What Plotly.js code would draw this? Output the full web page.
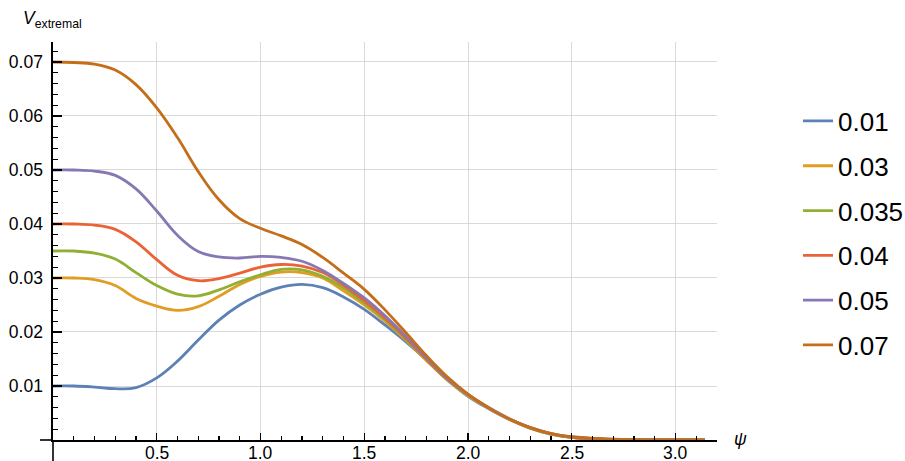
<!DOCTYPE html>
<html>
<head>
<meta charset="utf-8">
<script src="https://cdn.plot.ly/plotly-3.0.1.min.js"></script>
<style>html,body{margin:0;padding:0;background:#fff;}#chart{width:905px;height:461px;}</style>
</head>
<body>
<div id="chart"></div>
<script>
// psi grid
var psi = [0, 0.1, 0.2, 0.3, 0.4, 0.5, 0.6, 0.7, 0.8, 0.9, 1.0, 1.1, 1.2, 1.3, 1.4, 1.5, 1.6, 1.7, 1.8, 1.9, 2.0, 2.1, 2.2, 2.3, 2.4, 2.5, 2.6, 2.8, 3.0, 3.14159];

var labels = ["0.01", "0.03", "0.035", "0.04", "0.05", "0.07"];
var colors = ["#5E81B5", "#E19C24", "#8FB032", "#EB6235", "#8778B3", "#C56E1A"];

var v001  = [0.0100, 0.0100, 0.0098, 0.0095, 0.0097, 0.0115, 0.0146, 0.0185, 0.0222, 0.0250, 0.0270, 0.0283, 0.0288, 0.0282, 0.0265, 0.0242, 0.0213, 0.0182, 0.0148, 0.0112, 0.0081, 0.0058, 0.0038, 0.0022, 0.0011, 0.0005, 0.0002, 0.00005, 0.00001, 0];
var v003  = [0.0300, 0.0300, 0.0297, 0.0286, 0.0262, 0.0248, 0.0240, 0.0247, 0.0266, 0.0288, 0.0303, 0.0311, 0.0310, 0.0300, 0.0276, 0.0250, 0.0220, 0.0185, 0.0147, 0.0111, 0.0082, 0.0059, 0.0038, 0.0022, 0.0011, 0.0005, 0.0002, 0.00005, 0.00001, 0];
var v0035 = [0.0350, 0.0350, 0.0346, 0.0335, 0.0310, 0.0286, 0.0270, 0.0267, 0.0278, 0.0293, 0.0306, 0.0316, 0.0315, 0.0303, 0.0282, 0.0254, 0.0223, 0.0187, 0.0149, 0.0112, 0.0083, 0.0059, 0.0039, 0.0022, 0.0011, 0.0005, 0.0002, 0.00005, 0.00001, 0];
var v004  = [0.0400, 0.0400, 0.0398, 0.0390, 0.0367, 0.0334, 0.0305, 0.0295, 0.0299, 0.0309, 0.0320, 0.0325, 0.0322, 0.0310, 0.0287, 0.0258, 0.0226, 0.0189, 0.0150, 0.0113, 0.0084, 0.0059, 0.0039, 0.0023, 0.0012, 0.0005, 0.0002, 0.00005, 0.00001, 0];
var v005  = [0.0500, 0.0500, 0.0498, 0.0490, 0.0465, 0.0424, 0.0379, 0.0349, 0.0339, 0.0337, 0.0340, 0.0338, 0.0331, 0.0314, 0.0290, 0.0263, 0.0230, 0.0192, 0.0152, 0.0114, 0.0084, 0.0060, 0.0039, 0.0023, 0.0012, 0.0006, 0.0003, 0.00006, 0.00001, 0];
var v007  = [0.0700, 0.0699, 0.0696, 0.0685, 0.0658, 0.0615, 0.0560, 0.0497, 0.0445, 0.0410, 0.0392, 0.0378, 0.0362, 0.0338, 0.0309, 0.0279, 0.0241, 0.0199, 0.0156, 0.0117, 0.0085, 0.0060, 0.0039, 0.0023, 0.0012, 0.0006, 0.0003, 0.00006, 0.00001, 0];

var series = [v001, v003, v0035, v004, v005, v007];

var xTickVals = [0.5, 1.0, 1.5, 2.0, 2.5, 3.0];
var xTickText = ["0.5", "1.0", "1.5", "2.0", "2.5", "3.0"];
var yTickVals = [0.01, 0.02, 0.03, 0.04, 0.05, 0.06, 0.07];
var yTickText = ["0.01", "0.02", "0.03", "0.04", "0.05", "0.06", "0.07"];

var FONT = "Liberation Sans, Arial, sans-serif";

var traces = series.map(function (ys, i) {
  return {
    x: psi, y: ys, type: "scatter", mode: "lines",
    name: labels[i], legendgroup: "g" + i,
    line: {color: colors[i], width: 2.8, shape: "spline", smoothing: 1.1}
  };
});

// x tick labels placed through the x scale (slightly closer to the axis than Plotly's default)
var xLabelAnns = xTickVals.map(function (v, i) {
  return {x: v, xref: "x", y: 0, yref: "paper", xanchor: "center", yanchor: "top", yshift: -1,
          text: xTickText[i], showarrow: false, font: {family: FONT, size: 17.5, color: "#000"}};
});

var layout = {
  width: 905, height: 461,
  margin: {l: 53, r: 188, t: 42, b: 21, pad: 0, autoexpand: false},
  paper_bgcolor: "#fff", plot_bgcolor: "#fff",
  font: {family: FONT, size: 17, color: "#000"},
  showlegend: true,
  legend: {
    x: 1.122, xanchor: "left", y: 0.52, yanchor: "middle",
    font: {family: FONT, size: 26, color: "#000"},
    tracegroupgap: 8, bgcolor: "rgba(0,0,0,0)", borderwidth: 0
  },
  xaxis: {
    range: [0, 3.2], tickmode: "array", tickvals: xTickVals, ticktext: xTickText,
    showgrid: true, gridcolor: "#d9d9d9", gridwidth: 1, zeroline: false,
    showline: true, linecolor: "#000", linewidth: 1.6,
    ticks: "inside", ticklen: 7, tickwidth: 1.3, tickcolor: "#000",
    minor: {dtick: 0.1, tick0: 0, ticks: "inside", ticklen: 4, tickwidth: 1.1, tickcolor: "#000", showgrid: false},
    showticklabels: false, fixedrange: true
  },
  yaxis: {
    range: [0, 0.0737], tickmode: "array", tickvals: yTickVals, ticktext: yTickText,
    showgrid: true, gridcolor: "#d9d9d9", gridwidth: 1, zeroline: false,
    showline: true, linecolor: "#000", linewidth: 1.6,
    ticks: "inside", ticklen: 9, tickwidth: 1.3, tickcolor: "#000",
    minor: {dtick: 0.002, tick0: 0, ticks: "inside", ticklen: 5, tickwidth: 1.1, tickcolor: "#000", showgrid: false},
    tickfont: {family: FONT, size: 17.5, color: "#000"},
    ticklabelstandoff: 5, fixedrange: true
  },
  shapes: [
    {type: "line", xref: "paper", yref: "paper", x0: -0.0196, x1: 0, y0: 0, y1: 0, line: {color: "#000", width: 1.6}},
    {type: "line", xref: "paper", yref: "paper", x0: 0, x1: 0, y0: -0.055, y1: 0, line: {color: "#000", width: 1.6}}
  ],
  annotations: [
    {xref: "paper", yref: "paper", x: -0.048, y: 1.056, xanchor: "left", yanchor: "middle",
     text: "<i>V</i><sub>extremal</sub>", showarrow: false, font: {family: FONT, size: 17.5, color: "#000"}},
    {xref: "paper", yref: "paper", x: 1.035, y: 0.003, xanchor: "center", yanchor: "middle",
     text: "<i>ψ</i>", showarrow: false, font: {family: FONT, size: 17.5, color: "#000"}}
  ].concat(xLabelAnns)
};

Plotly.newPlot("chart", traces, layout, {displayModeBar: false, staticPlot: true});
</script>
</body>
</html>
